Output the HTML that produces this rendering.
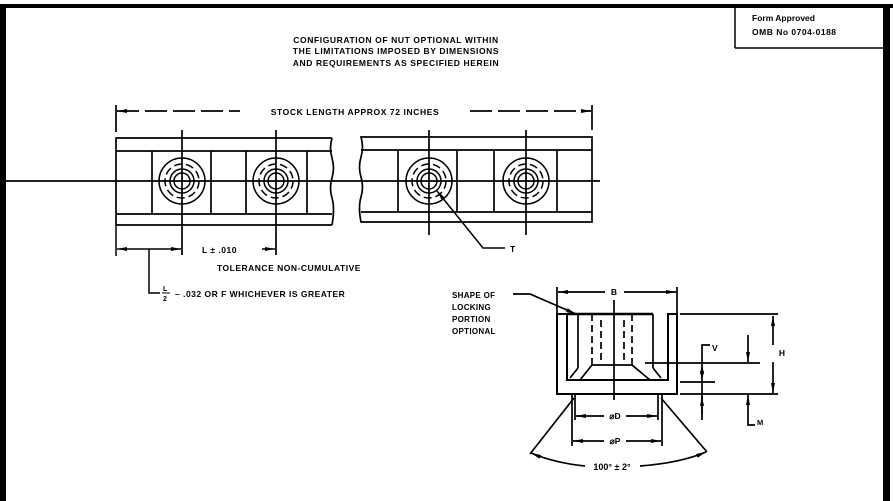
<!DOCTYPE html>
<html><head><style>
html,body{margin:0;padding:0;background:#fff;}
svg{display:block;}
text{font-family:"Liberation Sans",sans-serif;fill:#000;font-weight:bold;}
</style></head><body>
<svg width="893" height="501" viewBox="0 0 893 501" xmlns="http://www.w3.org/2000/svg">
<defs>
<marker id="a" markerWidth="10" markerHeight="6" refX="10" refY="3" orient="auto-start-reverse" markerUnits="userSpaceOnUse"><path d="M0,1 L10,3 L0,5z" fill="#000"/></marker>
</defs>
<rect x="0" y="4" width="893" height="4" fill="#000"/>
<rect x="0" y="4" width="6" height="497" fill="#000"/>
<rect x="883" y="4" width="7" height="497" fill="#000"/>
<g stroke="#000" stroke-width="1.5" fill="none">
<line x1="735" y1="8" x2="735" y2="48"/>
<line x1="735" y1="48" x2="885" y2="48"/>
</g>
<text x="752" y="21" font-size="8.5">Form Approved</text>
<text x="752" y="35" font-size="8.5" letter-spacing="0.5">OMB No  0704-0188</text>
<g font-size="8.5" text-anchor="middle" letter-spacing="0.6">
<text x="396" y="43">CONFIGURATION OF NUT OPTIONAL WITHIN</text>
<text x="396" y="54">THE LIMITATIONS IMPOSED BY DIMENSIONS</text>
<text x="396" y="66">AND REQUIREMENTS AS SPECIFIED HEREIN</text>
</g>
<g stroke="#000" stroke-width="1.7" fill="none">
<line x1="116" y1="105" x2="116" y2="132"/>
<line x1="592" y1="105" x2="592" y2="130"/>
<line x1="117" y1="111" x2="240" y2="111" stroke-dasharray="22,6" marker-start="url(#a)"/>
<line x1="470" y1="111" x2="591" y2="111" stroke-dasharray="22,6" marker-end="url(#a)"/>
<path d="M332,138 L116,138 L116,225 L332,225"/>
<path d="M332,138 q-3,10 0,20 q3,10 0,20 q-3,10 0,20 q3,10 0,27"/>
<line x1="116" y1="151" x2="332" y2="151"/>
<line x1="116" y1="214" x2="332" y2="214"/>
<line x1="152" y1="151" x2="152" y2="214"/>
<line x1="211" y1="151" x2="211" y2="214"/>
<line x1="246" y1="151" x2="246" y2="214"/>
<line x1="307" y1="151" x2="307" y2="214"/>
<path d="M361,137 q3,10 0,20 q-3,10 0,20 q3,10 0,20 q-3,10 0,25 L592,222 L592,137 Z"/>
<line x1="361" y1="150" x2="592" y2="150"/>
<line x1="361" y1="212" x2="592" y2="212"/>
<line x1="398" y1="150" x2="398" y2="212"/>
<line x1="457" y1="150" x2="457" y2="212"/>
<line x1="494" y1="150" x2="494" y2="212"/>
<line x1="557" y1="150" x2="557" y2="212"/>
<line x1="6" y1="181" x2="600" y2="181"/>
<line x1="182" y1="130" x2="182" y2="255"/>
<line x1="276" y1="130" x2="276" y2="255"/>
<line x1="429" y1="130" x2="429" y2="235"/>
<line x1="526" y1="130" x2="526" y2="235"/>
</g>
<g stroke="#000" stroke-width="1.5" fill="none">
<g transform="translate(182,181)"><circle r="23"/><circle r="17" stroke-dasharray="8,4"/><circle r="12"/><circle r="8"/></g>
<g transform="translate(276,181)"><circle r="23"/><circle r="17" stroke-dasharray="8,4"/><circle r="12"/><circle r="8"/></g>
<g transform="translate(429,181)"><circle r="23"/><circle r="17" stroke-dasharray="8,4"/><circle r="12"/><circle r="8"/></g>
<g transform="translate(526,181)"><circle r="23"/><circle r="17" stroke-dasharray="8,4"/><circle r="12"/><circle r="8"/></g>
<polyline points="437,191 483,248 505,248" marker-start="url(#a)"/>
<line x1="116" y1="225" x2="116" y2="256"/>
<line x1="117" y1="249" x2="181" y2="249" marker-start="url(#a)" marker-end="url(#a)"/>
<line x1="262" y1="249" x2="275" y2="249" marker-end="url(#a)"/>
<polyline points="149,249 149,293 160,293"/>
</g>
<rect x="242" y="104" width="226" height="14" fill="#fff"/>
<text x="355" y="115" font-size="8.5" text-anchor="middle" letter-spacing="0.6">STOCK LENGTH APPROX  72 INCHES</text>
<text x="510" y="252" font-size="8.5">T</text>
<text x="202" y="253" font-size="8.5" letter-spacing="0.5">L ± .010</text>
<text x="217" y="271" font-size="8.5" letter-spacing="0.5">TOLERANCE NON-CUMULATIVE</text>
<text x="163" y="291" font-size="7">L</text>
<line x1="162" y1="293" x2="170" y2="293" stroke="#000"/>
<text x="163" y="301" font-size="7">2</text>
<text x="175" y="297" font-size="8.5" letter-spacing="0.5">– .032 OR F  WHICHEVER IS GREATER</text>
<g stroke="#000" stroke-width="1.7" fill="none">
<line x1="557" y1="287" x2="557" y2="313"/>
<line x1="677" y1="287" x2="677" y2="313"/>
<line x1="558" y1="292" x2="605" y2="292" marker-start="url(#a)"/>
<line x1="624" y1="292" x2="676" y2="292" marker-end="url(#a)"/>
<path d="M557,314 L557,394 L677,394 L677,314 L668,314 L668,380 L567,380 L567,314 Z" stroke-width="2"/>
<line x1="567" y1="314" x2="653" y2="314" stroke-width="2.4"/>
<line x1="578" y1="314" x2="578" y2="368"/>
<line x1="653" y1="314" x2="653" y2="368"/>
<path d="M578,368 L570,378 M653,368 L661,378"/>
<path d="M592,314 L592,365 M632,314 L632,365" stroke-dasharray="7,4"/>
<path d="M601,320 L601,360 M624,320 L624,360" stroke-dasharray="7,4"/>
<path d="M592,365 L632,365 L650,380 M592,365 L580,380"/>
<line x1="614" y1="300" x2="614" y2="400"/>
<polyline points="513,294 530,294 576,314" marker-end="url(#a)"/>
<line x1="680" y1="314" x2="778" y2="314"/>
<line x1="680" y1="394" x2="778" y2="394"/>
<line x1="773" y1="316" x2="773" y2="345" marker-start="url(#a)"/>
<line x1="773" y1="362" x2="773" y2="393" marker-end="url(#a)"/>
<line x1="645" y1="363" x2="760" y2="363"/>
<line x1="680" y1="382" x2="715" y2="382"/>
<line x1="748" y1="335" x2="748" y2="362" marker-end="url(#a)"/>
<line x1="702" y1="364" x2="702" y2="381" marker-start="url(#a)" marker-end="url(#a)"/>
<polyline points="702,364 702,345 710,345"/>
<line x1="702" y1="382" x2="702" y2="420"/>
<line x1="748" y1="420" x2="748" y2="395" marker-end="url(#a)"/>
<polyline points="748,420 748,425 755,425"/>
<line x1="702" y1="396" x2="702" y2="415" marker-start="url(#a)"/>
<line x1="575" y1="394" x2="575" y2="420"/>
<line x1="658" y1="394" x2="658" y2="420"/>
<line x1="572" y1="394" x2="572" y2="446"/>
<line x1="662" y1="394" x2="662" y2="446"/>
<line x1="576" y1="416" x2="604" y2="416" marker-start="url(#a)"/>
<line x1="626" y1="416" x2="657" y2="416" marker-end="url(#a)"/>
<line x1="573" y1="441" x2="604" y2="441" marker-start="url(#a)"/>
<line x1="626" y1="441" x2="661" y2="441" marker-end="url(#a)"/>
<line x1="574" y1="398" x2="530" y2="454"/>
<line x1="661" y1="398" x2="707" y2="452"/>
<path d="M531,453 Q555,463 585,466" marker-start="url(#a)"/>
<path d="M640,466 Q680,463 706,452" marker-end="url(#a)"/>
</g>
<text x="614" y="295" font-size="8.5" text-anchor="middle">B</text>
<text x="782" y="356" font-size="8.5" text-anchor="middle">H</text>
<text x="712" y="351" font-size="8.5">V</text>
<text x="757" y="425" font-size="7.5">M</text>
<text x="615" y="419" font-size="8.5" text-anchor="middle">⌀D</text>
<text x="615" y="444" font-size="8.5" text-anchor="middle">⌀P</text>
<text x="612" y="470" font-size="9" text-anchor="middle">100° ± 2°</text>
<g font-size="8" letter-spacing="0.3">
<text x="452" y="298">SHAPE OF</text>
<text x="452" y="310">LOCKING</text>
<text x="452" y="322">PORTION</text>
<text x="452" y="334">OPTIONAL</text>
</g>
</svg>
</body></html>
